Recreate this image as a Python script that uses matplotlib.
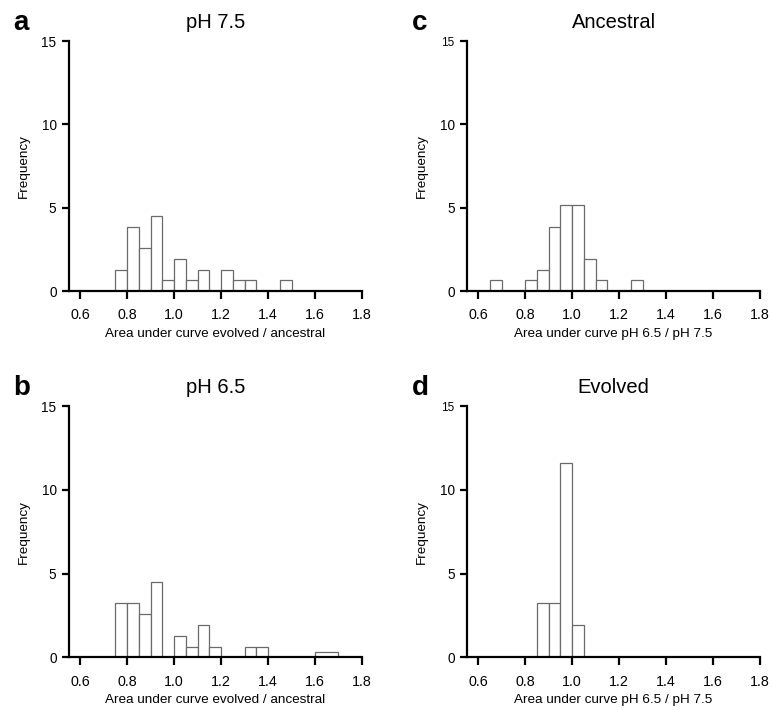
import matplotlib
matplotlib.use("Agg")
import matplotlib.pyplot as plt
import numpy as np

plt.rcParams['font.family'] = ['Liberation Sans', 'DejaVu Sans']

# bin edges and counts per panel (n = 31 in each), plotted as density
edges_a = [0.75, 0.80, 0.85, 0.90, 0.95, 1.00, 1.05, 1.10, 1.15, 1.20, 1.25, 1.30, 1.35, 1.40, 1.45, 1.50]
counts_a = [2, 6, 4, 7, 1, 3, 1, 2, 0, 2, 1, 1, 0, 0, 1]

edges_b = [0.75, 0.80, 0.85, 0.90, 0.95, 1.00, 1.05, 1.10, 1.15, 1.20, 1.25, 1.30, 1.35, 1.40, 1.50, 1.60, 1.70]
counts_b = [5, 5, 4, 7, 0, 2, 1, 3, 1, 0, 0, 1, 1, 0, 0, 1]

edges_c = [0.65, 0.70, 0.75, 0.80, 0.85, 0.90, 0.95, 1.00, 1.05, 1.10, 1.15, 1.20, 1.25, 1.30]
counts_c = [1, 0, 0, 1, 2, 6, 8, 8, 3, 1, 0, 0, 1]

edges_d = [0.85, 0.90, 0.95, 1.00, 1.05]
counts_d = [5, 5, 18, 3]

xticks = [0.6, 0.8, 1.0, 1.2, 1.4, 1.6, 1.8]
yticks = [0, 5, 10, 15]

panels = [
    ("a", "pH 7.5", "Area under curve evolved / ancestral", edges_a, counts_a, [0.0894, 0.590, 0.3795, 0.352]),
    ("b", "pH 6.5", "Area under curve evolved / ancestral", edges_b, counts_b, [0.0894, 0.0742, 0.3795, 0.3535]),
    ("c", "Ancestral", "Area under curve pH 6.5 / pH 7.5", edges_c, counts_c, [0.605, 0.590, 0.3795, 0.352]),
    ("d", "Evolved", "Area under curve pH 6.5 / pH 7.5", edges_d, counts_d, [0.605, 0.0742, 0.3795, 0.3535]),
]

fig = plt.figure(figsize=(7.72, 7.10), dpi=100)

for letter, title, xlabel, edges, counts, pos in panels:
    ax = fig.add_axes(pos)
    centers = (np.array(edges[:-1]) + np.array(edges[1:])) / 2
    ax.hist(centers, bins=edges, weights=counts, density=True,
            facecolor="white", edgecolor="#6a6a6a", linewidth=0.9)
    ax.set_xlim(0.553, 1.8)
    ax.set_ylim(0, 15)
    ax.set_xticks(xticks)
    ax.set_xticklabels([f"{t:.1f}" for t in xticks])
    ax.set_yticks(yticks)
    for s in ["top", "right"]:
        ax.spines[s].set_visible(False)
    for s in ["left", "bottom"]:
        ax.spines[s].set_linewidth(1.6)
    ax.tick_params(axis="x", direction="out", length=6, width=1.6, labelsize=10.3, pad=6.5)
    ax.tick_params(axis="y", direction="out", length=5, width=1.6, labelsize=9.8, pad=4)
    if letter in ("c", "d"):
        # top label is set smaller in the right-hand panels
        ax.get_yticklabels()[-1].set_fontsize(8.5)
    ax.set_xlabel(xlabel, fontsize=9.7)
    ax.xaxis.set_label_coords(0.5, -0.148)
    ax.set_ylabel("Frequency", fontsize=9.7)
    ax.yaxis.set_label_coords(-0.135, 0.5)
    ax.set_title(title, fontsize=14.5, pad=9.5)
    ax.text(-0.19, 1.045, letter, transform=ax.transAxes, fontsize=20,
            fontweight="bold", ha="left", va="baseline")

fig.savefig("out.png", dpi=100)
